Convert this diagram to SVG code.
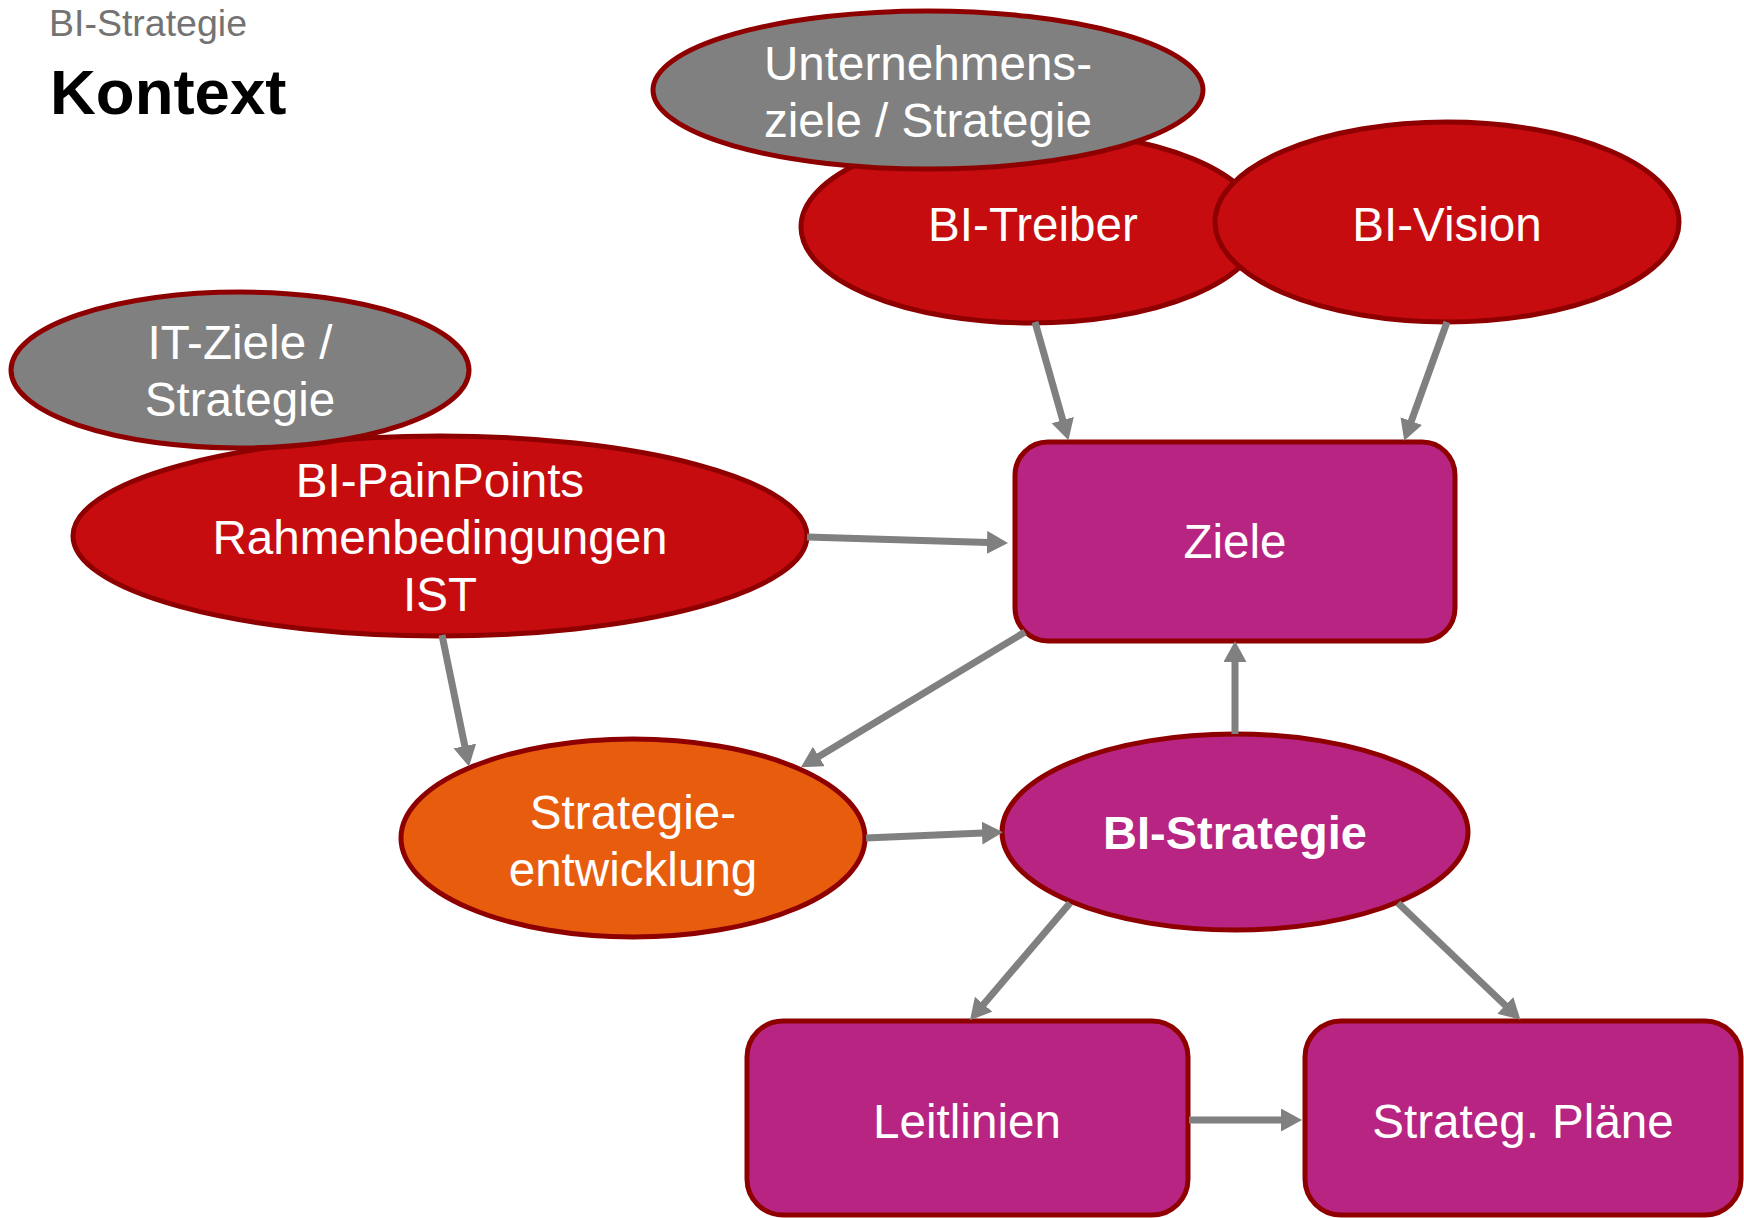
<svg xmlns="http://www.w3.org/2000/svg" width="1744" height="1218" viewBox="0 0 1744 1218">
  <style>
    .node { stroke: #8E0000; stroke-width: 5; }
    .red { fill: #C70C10; }
    .grey { fill: #808080; }
    .orange { fill: #E85C0D; }
    .mag { fill: #B82481; }
    .lbl { font-family: "Liberation Sans", Arial, sans-serif; font-size: 47.6px; fill: #FFFFFF; text-anchor: middle; }
    .bold { font-weight: bold; font-size: 47px; }
    .conn { stroke: #808080; stroke-width: 7; fill: none; marker-end: url(#head); }
    .sub { font-family: "Liberation Sans", Arial, sans-serif; font-size: 37.5px; fill: #737373; }
    .title { font-family: "Liberation Sans", Arial, sans-serif; font-size: 63.5px; font-weight: bold; fill: #000000; }
  </style>
  <defs>
    <marker id="head" markerUnits="userSpaceOnUse" markerWidth="22" markerHeight="24" refX="1" refY="11.5" orient="auto">
      <path d="M0,0 L21,11.5 L0,23 Z" fill="#808080"/>
    </marker>
  </defs>
  <rect width="1744" height="1218" fill="#FFFFFF"/>

  <text class="sub" x="49" y="36">BI-Strategie</text>
  <text class="title" x="50" y="114">Kontext</text>

  <g id="node-bi-treiber">
    <ellipse class="node red" cx="1031" cy="227" rx="230" ry="96"/>
    <text class="lbl" x="1033" y="241">BI-Treiber</text>
  </g>
  <g id="node-unternehmensziele">
    <ellipse class="node grey" cx="928" cy="90" rx="275" ry="79"/>
    <text class="lbl" x="928" y="80">Unternehmens-</text>
    <text class="lbl" x="928" y="137">ziele / Strategie</text>
  </g>
  <g id="node-bi-vision">
    <ellipse class="node red" cx="1447" cy="222" rx="232" ry="100"/>
    <text class="lbl" x="1447" y="241">BI-Vision</text>
  </g>
  <g id="node-painpoints">
    <ellipse class="node red" cx="440" cy="536" rx="367" ry="100"/>
    <text class="lbl" x="440" y="497">BI-PainPoints</text>
    <text class="lbl" x="440" y="554">Rahmenbedingungen</text>
    <text class="lbl" x="440" y="611">IST</text>
  </g>
  <g id="node-it-ziele">
    <ellipse class="node grey" cx="240" cy="370" rx="229" ry="78"/>
    <text class="lbl" x="240" y="359">IT-Ziele /</text>
    <text class="lbl" x="240" y="416">Strategie</text>
  </g>
  <g id="node-ziele">
    <rect class="node mag" x="1015" y="442" width="440" height="199" rx="33" ry="33"/>
    <text class="lbl" x="1235" y="558">Ziele</text>
  </g>
  <g id="node-strategieentwicklung">
    <ellipse class="node orange" cx="633" cy="838" rx="232" ry="99"/>
    <text class="lbl" x="633" y="829">Strategie-</text>
    <text class="lbl" x="633" y="886">entwicklung</text>
  </g>
  <g id="node-bi-strategie">
    <ellipse class="node mag" cx="1235" cy="832" rx="233" ry="98"/>
    <text class="lbl bold" x="1235" y="849">BI-Strategie</text>
  </g>
  <g id="node-leitlinien">
    <rect class="node mag" x="747" y="1021" width="441" height="194" rx="36" ry="36"/>
    <text class="lbl" x="967" y="1138">Leitlinien</text>
  </g>
  <g id="node-strateg-plaene">
    <rect class="node mag" x="1305" y="1021" width="436" height="194" rx="36" ry="36"/>
    <text class="lbl" x="1523" y="1138">Strateg. Pläne</text>
  </g>

  <g id="connectors">
    <path class="conn" d="M1035,322 L1063,421"/>
    <path class="conn" d="M1447,322 L1411,422"/>
    <path class="conn" d="M807,537 L988,542.4"/>
    <path class="conn" d="M442,635 L465,747"/>
    <path class="conn" d="M1025,632 L818,757"/>
    <path class="conn" d="M866,838 L983,833"/>
    <path class="conn" d="M1235,734 L1235,661"/>
    <path class="conn" d="M1070,903 L983,1005"/>
    <path class="conn" d="M1398,903 L1506,1006"/>
    <path class="conn" d="M1189,1120 L1282,1120"/>
  </g>
</svg>
